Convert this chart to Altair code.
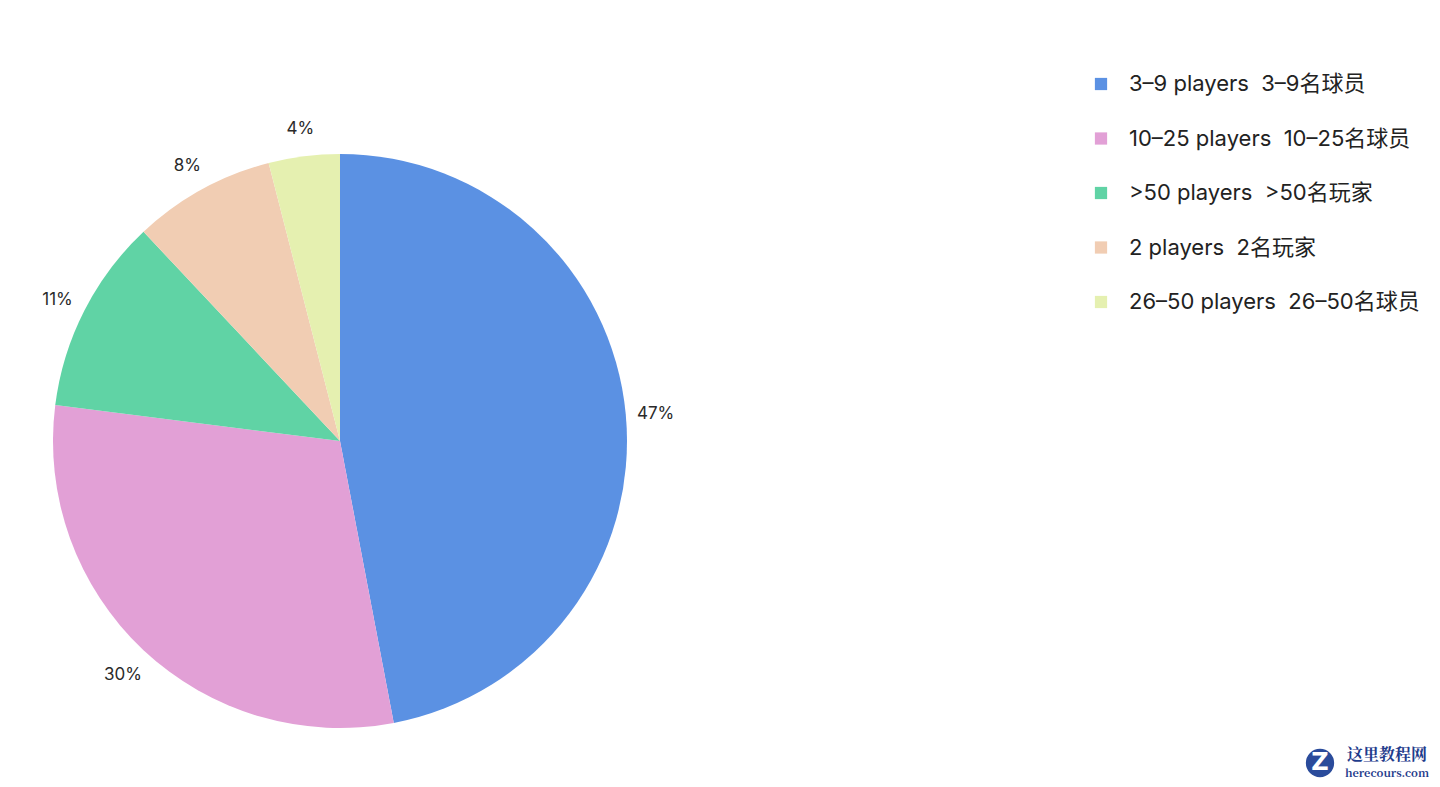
import altair as alt
import pandas as pd

NB = "\u00a0\u00a0"
categories = ["3–9 players" + NB + "3–9名球员", "10–25 players" + NB + "10–25名球员",
              ">50 players" + NB + ">50名玩家", "2 players" + NB + "2名玩家",
              "26–50 players" + NB + "26–50名球员"]
values = [47, 30, 11, 8, 4]
colors = ["#5B91E3", "#E2A0D6", "#60D3A5", "#F1CDB3", "#E5F0B0"]

labels = [f"{v}%" for v in values]
df = pd.DataFrame({"cat": categories, "value": values, "label": labels, "idx": list(range(len(values)))})

FONT = "Inter, Noto Sans CJK SC, sans-serif"
CX, CY = 332, 433

base = alt.Chart(df).encode(
    theta=alt.Theta("value:Q", stack=True),
    order=alt.Order("idx:Q"),
)

pie = base.mark_arc(outerRadius=287, strokeWidth=0).encode(
    x=alt.value(CX), y=alt.value(CY),
    color=alt.Color("cat:N", sort=categories,
                    scale=alt.Scale(domain=categories, range=colors),
                    legend=alt.Legend(title=None, orient="none", legendX=1082, legendY=65,
                                      symbolType="square", symbolSize=150, symbolStrokeWidth=0,
                                      labelFontSize=22, labelFont=FONT, labelColor="#222222",
                                      labelOffset=17, rowPadding=32.5, labelLimit=400)),
)

text = base.mark_text(radius=317, dy=3, fontSize=17, font=FONT, color="#2a2a2a").encode(
    x=alt.value(CX), y=alt.value(CY), text="label:N",
)

wm_text = ["这里教程网", "herecours.com"]
wm_df = pd.DataFrame({"t": wm_text, "x": [1379, 1379], "y": [747, 766], "s": [16, 11]})
wm = alt.Chart(wm_df).mark_text(font="Noto Serif CJK SC, DejaVu Serif, serif", fontWeight="bold",
                                color="#1F3C8C").encode(
    x=alt.X("x:Q", scale=None), y=alt.Y("y:Q", scale=None), text="t:N",
    size=alt.Size("s:Q", scale=None, legend=None),
)
logo_df = pd.DataFrame({"x": [1312], "y": [755]})
logo = alt.Chart(logo_df).mark_circle(size=800, color="#2A4B9B", opacity=1).encode(
    x=alt.X("x:Q", scale=None), y=alt.Y("y:Q", scale=None))
logoz = alt.Chart(logo_df).mark_text(text="Z", fontSize=24, fontWeight="bold", color="white",
                                      font="DejaVu Sans").encode(
    x=alt.X("x:Q", scale=None), y=alt.Y("y:Q", scale=None))

chart = alt.layer(pie, text, logo, logoz, wm).properties(
    width=1424, height=771, autosize=alt.AutoSizeParams(type="none"), padding=0,
    background="white",
).configure_view(strokeWidth=0, stroke=None)

chart.save("out.html", embed_options={"renderer": "svg", "actions": False})
